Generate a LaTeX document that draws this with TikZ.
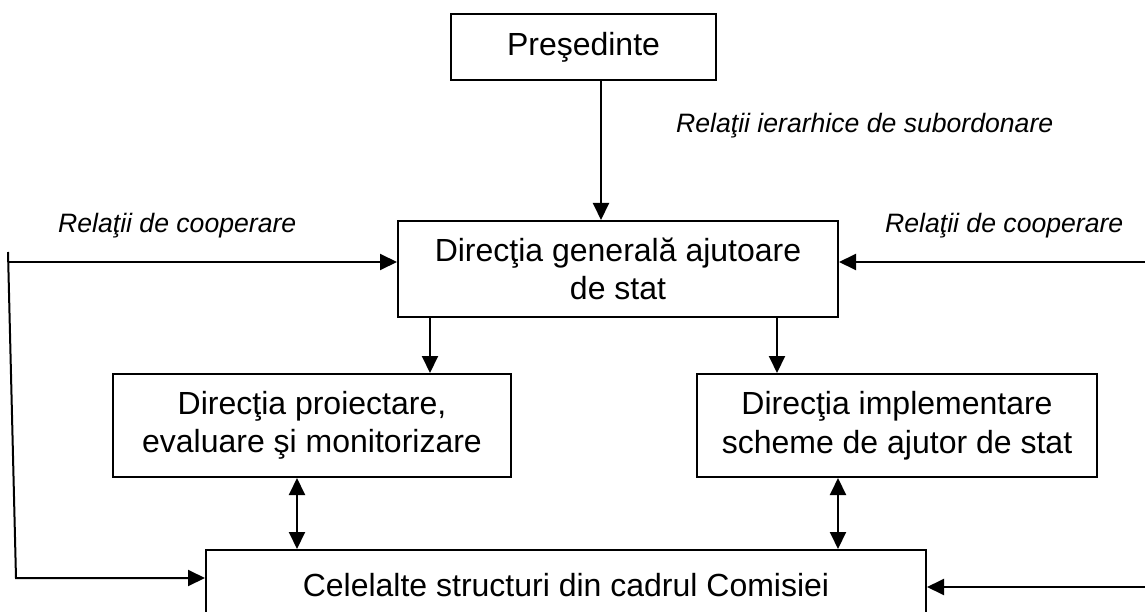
\documentclass[tikz,border=0pt]{standalone}
\usepackage{fontspec}
\setmainfont{Liberation Sans}
\usetikzlibrary{arrows.meta}
\begin{document}
\begin{tikzpicture}[x=1pt,y=-1pt,
  box/.style={draw,line width=2pt,rectangle,inner sep=0pt,align=center,font=\fontsize{32}{38.5}\selectfont},
  lbl/.style={inner sep=0pt,anchor=base west,font=\fontsize{26.6}{30}\selectfont\itshape},
  tip/.style={},
  arr/.style={line width=2pt,-{Triangle[length=17pt,width=16pt]}},
  dbl/.style={line width=2pt,{Triangle[length=17pt,width=16pt]}-{Triangle[length=17pt,width=16pt]}}]
\useasboundingbox (0,0) rectangle (1145,612);
\clip (0,0) rectangle (1145,612);

\node[box,minimum width=265,minimum height=66] (pres) at (583.5,47) {Preşedinte};
\node[box,minimum width=440,minimum height=96] (dg) at (618,269) {Direcţia generală ajutoare\\de stat};
\node[box,minimum width=398,minimum height=103] (proi) at (312,425.5) {Direcţia proiectare,\\evaluare şi monitorizare};
\node[box,minimum width=400,minimum height=103] (impl) at (897,425.5) {Direcţia implementare\\scheme de ajutor de stat};
\node[box,minimum width=720,minimum height=70] (cel) at (566,585) {Celelalte structuri din cadrul Comisiei};

\node[lbl] (lh) at (676,133) {Relaţii ierarhice de subordonare};
\node[lbl] (lcl) at (58,233) {Relaţii de cooperare};
\node[lbl] (lcr) at (885,233) {Relaţii de cooperare};

\coordinate (L1) at (8,252);
\coordinate (L2) at (16,578);
\coordinate (R1) at (1145,262);
\coordinate (R2) at (1145,587);
\coordinate (xp) at (601,0);
\coordinate (xa) at (430,0);
\coordinate (xb) at (777,0);
\coordinate (xc) at (297,0);
\coordinate (xd) at (838,0);

\draw[arr] (pres.south -| xp) -- (dg.north -| xp);
\draw[arr] (dg.south -| xa) -- (proi.north -| xa);
\draw[arr] (dg.south -| xb) -- (impl.north -| xb);
\draw[dbl] (proi.south -| xc) -- (cel.north -| xc);
\draw[dbl] (impl.south -| xd) -- (cel.north -| xd);
\draw[arr] (L1 |- R1) -- (dg.west |- R1);
\draw[arr] (L1) -- (L2) -- (cel.west |- L2);
\draw[arr] (R1) -- (dg.east |- R1);
\draw[arr] (R2) -- (cel.east |- R2);
\end{tikzpicture}
\end{document}
